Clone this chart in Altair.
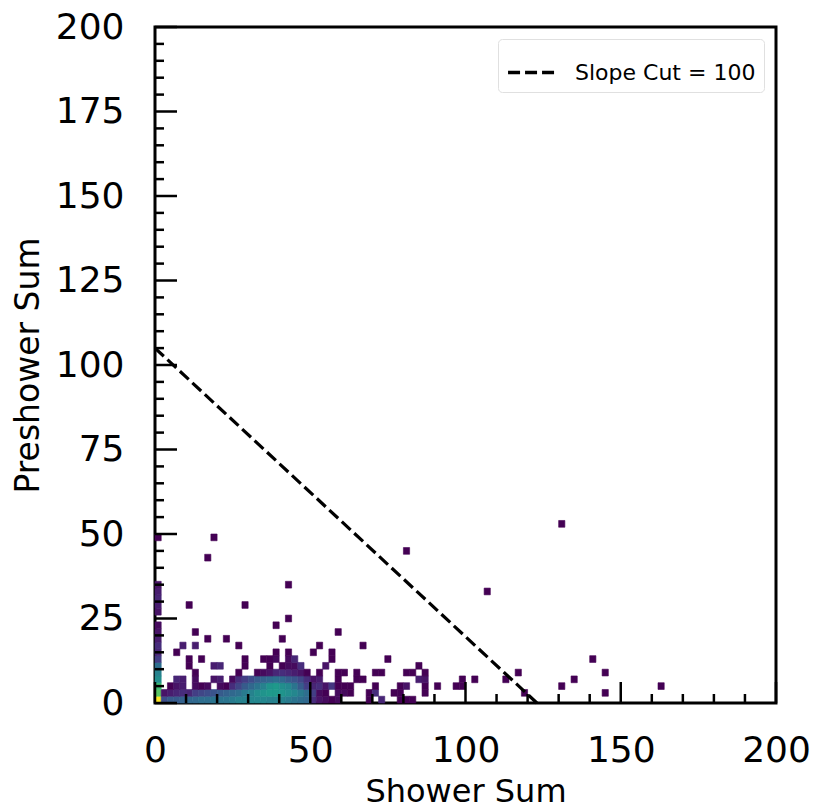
import altair as alt
import pandas as pd

# ---- 2D histogram (bin width 2 in both axes); dense block x = 0..58, y = 0..8
row_y0 = [40, 10, 12, 12, 13, 14, 14, 15, 15, 16, 16, 16, 17, 18, 18, 19, 19, 19, 18, 18,
          18, 17, 16, 15, 14, 6, 3, 2, 1, 2]
row_y2 = [30, 3, 4, 5, 6, 5, 8, 9, 10, 11, 12, 13, 14, 15, 17, 18, 20, 21, 22, 22,
          21, 20, 19, 17, 15, 8, 2, 1, 0, 2]
row_y4 = [28, 0, 1, 3, 4, 0, 2, 1, 2, 0, 2, 1, 6, 9, 12, 14, 16, 18, 21, 22,
          20, 19, 16, 12, 8, 5, 6, 3, 7, 1]
row_y6 = [20, 0, 0, 5, 4, 0, 2, 0, 0, 3, 4, 0, 2, 6, 8, 10, 12, 13, 14, 15,
          14, 12, 11, 9, 6, 3, 4, 0, 0, 1]
row_y8 = [18, 0, 0, 0, 0, 0, 1, 0, 0, 0, 0, 0, 0, 1, 0, 0, 1, 2, 3, 5,
          6, 5, 4, 3, 1, 0, 1, 0, 0, 1]
dense_rows = [row_y0, row_y2, row_y4, row_y6, row_y8]
dense_y = [0, 2, 4, 6, 8]

# ---- sparse cells (bin lower edges and counts)
sparse_x = [0, 0, 0, 0, 0, 0, 0, 0, 0, 0, 0, 0, 0,
            10, 18, 20, 28, 36, 40, 42, 44, 46, 54, 84,
            10, 14, 28, 34, 36, 38, 42, 44, 56, 74,
            6, 38, 42, 50, 56,
            8, 12, 26, 52, 66,
            16, 22, 40,
            12, 58, 38, 42, 10, 28, 42, 16, 18, 80, 106, 130,
            68, 72, 78, 80, 82,
            60, 62, 68, 70, 76, 78, 86, 118, 144,
            60, 62, 70, 78, 80, 86, 90, 96, 98, 130, 162,
            64, 66, 84, 86, 98, 102, 112, 134,
            60, 64, 70, 72, 80, 82, 86, 116, 144,
            140]
sparse_y = [10, 12, 14, 16, 18, 20, 22, 26, 28, 30, 32, 34, 48,
            10, 10, 10, 10, 10, 10, 10, 10, 10, 10, 10,
            12, 12, 12, 12, 12, 12, 12, 12, 12, 12,
            14, 14, 14, 14, 14,
            16, 16, 16, 16, 16,
            18, 18, 18,
            20, 20, 22, 24, 28, 28, 34, 42, 48, 44, 32, 52,
            0, 0, 0, 0, 0,
            2, 2, 2, 2, 2, 2, 2, 2, 2,
            4, 4, 4, 4, 4, 4, 4, 4, 4, 4, 4,
            6, 6, 6, 6, 6, 6, 6, 6,
            8, 8, 8, 8, 8, 8, 8, 8, 8,
            12]
sparse_c = [15, 8, 5, 6, 4, 3, 2, 3, 4, 5, 4, 3, 1,
            1, 4, 5, 1, 1, 1, 2, 2, 6, 3, 1,
            1, 1, 1, 1, 1, 2, 2, 5, 1, 1,
            1, 1, 1, 1, 1,
            4, 4, 1, 1, 1,
            1, 1, 1,
            1, 1, 1, 1, 1, 1, 1, 1, 1, 1, 1, 1,
            1, 5, 1, 1, 1,
            2, 1, 1, 6, 1, 1, 1, 1, 1,
            1, 1, 1, 1, 3, 1, 1, 1, 1, 1, 1,
            1, 1, 4, 3, 1, 1, 1, 1,
            1, 1, 1, 1, 1, 1, 1, 1, 1,
            1]

bin_w = 2

# ---- slope cut line
line_x = [0, 123]
line_y = [105, 0]
line_label = "Slope Cut = 100"

# ---- axis ticks
x_major = [0, 50, 100, 150, 200]
x_minor = [10, 20, 30, 40, 60, 70, 80, 90, 110, 120, 130, 140, 160, 170, 180, 190]
y_major = [0, 25, 50, 75, 100, 125, 150, 175, 200]
y_minor = [5, 10, 15, 20, 30, 35, 40, 45, 55, 60, 65, 70, 80, 85, 90, 95,
           105, 110, 115, 120, 130, 135, 140, 145, 155, 160, 165, 170, 180, 185, 190, 195]

recs = []
for yv, row in zip(dense_y, dense_rows):
    for i, c in enumerate(row):
        if c > 0:
            recs.append({"x": i * bin_w, "y": yv, "count": c})
for xv, yv, c in zip(sparse_x, sparse_y, sparse_c):
    recs.append({"x": xv, "y": yv, "count": c})
hist = pd.DataFrame(recs)
hist["x2"] = hist["x"] + bin_w
hist["y2"] = hist["y"] + bin_w

W, H = 621, 676
FONT = "DejaVu Sans"

xscale = alt.Scale(domain=[0, 200], nice=False, zero=False)
yscale = alt.Scale(domain=[0, 200], nice=False, zero=False)
cscale = alt.Scale(scheme="viridis", domain=[1, 40])

xaxis = alt.Axis(values=x_major, ticks=False, domain=False, grid=False,
                 labelFontSize=36, labelFont=FONT, labelColor="black", labelPadding=30,
                 labelFlush=False, labelOverlap=False, labelBound=False,
                 title="Shower Sum", titleFont=FONT, titleFontSize=32,
                 titleFontWeight="normal", titleColor="black", titlePadding=8)
yaxis = alt.Axis(values=y_major, ticks=False, domain=False, grid=False,
                 labelFontSize=36, labelFont=FONT, labelColor="black", labelPadding=31,
                 labelFlush=False, labelOverlap=False, labelBound=False,
                 title="Preshower Sum", titleFont=FONT, titleFontSize=33,
                 titleFontWeight="normal", titleColor="black", titlePadding=10)

heat = alt.Chart(hist).mark_rect(strokeWidth=0.6).encode(
    x=alt.X("x:Q", scale=xscale, axis=xaxis),
    x2="x2:Q",
    y=alt.Y("y:Q", scale=yscale, axis=yaxis),
    y2="y2:Q",
    color=alt.Color("count:Q", scale=cscale, legend=None),
    stroke=alt.Stroke("count:Q", scale=cscale, legend=None),
)

line_df = pd.DataFrame({"x": line_x, "y": line_y, "label": [line_label] * len(line_x)})
line = alt.Chart(line_df).mark_line(color="black", strokeWidth=3.2).encode(
    x=alt.X("x:Q", scale=xscale),
    y=alt.Y("y:Q", scale=yscale),
    strokeDash=alt.StrokeDash(
        "label:N",
        scale=alt.Scale(domain=[line_label], range=[[12, 5]]),
        legend=alt.Legend(orient="top-right", offset=12, title=None,
                          labelFont=FONT, labelFontSize=22, labelColor="black",
                          labelLimit=400,
                          labelOffset=18, symbolType="stroke", symbolSize=2200,
                          symbolStrokeWidth=3.4, symbolStrokeColor="black",
                          fillColor="white", strokeColor="#e0e0e0", cornerRadius=4,
                          padding=8),
    ),
)

xmaj = alt.Chart(pd.DataFrame({"v": x_major})).mark_rule(color="black", strokeWidth=2.5).encode(
    x=alt.X("v:Q", scale=xscale), y=alt.value(H), y2=alt.value(H - 21))
xmin = alt.Chart(pd.DataFrame({"v": x_minor})).mark_rule(color="black", strokeWidth=2.5).encode(
    x=alt.X("v:Q", scale=xscale), y=alt.value(H), y2=alt.value(H - 9))
ymaj = alt.Chart(pd.DataFrame({"v": y_major})).mark_rule(color="black", strokeWidth=2.5).encode(
    y=alt.Y("v:Q", scale=yscale), x=alt.value(0), x2=alt.value(22))
ymin = alt.Chart(pd.DataFrame({"v": y_minor})).mark_rule(color="black", strokeWidth=2.5).encode(
    y=alt.Y("v:Q", scale=yscale), x=alt.value(0), x2=alt.value(9))

chart = alt.layer(heat, line, xmaj, xmin, ymaj, ymin).properties(
    width=W, height=H,
    autosize=alt.AutoSizeParams(type="none"),
    padding={"left": 155, "top": 27, "right": 37, "bottom": 106},
    background="white",
).configure_view(stroke="black", strokeWidth=3)

chart.save("out.html", embed_options={"renderer": "svg", "actions": False})
